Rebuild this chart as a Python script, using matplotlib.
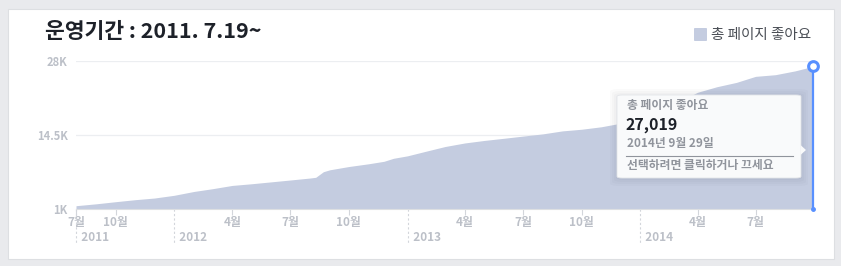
import matplotlib
matplotlib.use("Agg")
import matplotlib.pyplot as plt
import matplotlib.dates as mdates
from matplotlib.patches import FancyBboxPatch, Rectangle, Polygon
from matplotlib.lines import Line2D
import datetime as dt

plt.rcParams['font.family'] = ['Noto Sans CJK KR', 'DejaVu Sans']

# ---------------- data ----------------
title = "운영기간 : 2011. 7.19~"
series_name = "총 페이지 좋아요"
dates = ["2011-07-31", "2011-09-01", "2011-10-01", "2011-11-01", "2011-12-01",
         "2012-01-01", "2012-02-01", "2012-03-01", "2012-04-01", "2012-05-01",
         "2012-06-01", "2012-07-01", "2012-08-01", "2012-08-10", "2012-08-22",
         "2012-09-01", "2012-10-01", "2012-11-01", "2012-11-25", "2012-12-10",
         "2013-01-01", "2013-02-01", "2013-03-01", "2013-04-01", "2013-05-01",
         "2013-06-01", "2013-07-01", "2013-08-01", "2013-09-01", "2013-10-01",
         "2013-11-01", "2013-12-01", "2014-01-01", "2014-02-01", "2014-03-01",
         "2014-04-01", "2014-05-01", "2014-06-01", "2014-06-20", "2014-07-01",
         "2014-08-01", "2014-09-01", "2014-09-29"]
likes = [1600, 1950, 2330, 2700, 3000,
         3500, 4200, 4700, 5300, 5600,
         5950, 6290, 6650, 6780, 7800,
         8150, 8750, 9250, 9700, 10250,
         10700, 11600, 12400, 13050, 13500,
         13900, 14300, 14700, 15250, 15550,
         16000, 16650, 17700, 19000, 20500,
         22300, 23300, 24100, 24800, 25200,
         25500, 26200, 27019]
y_ticks = [1000, 14500, 28000]
y_tick_labels = ["1K", "14.5K", "28K"]
month_ticks = ["2011-07-31", "2011-10-01", "2012-04-01", "2012-07-01", "2012-10-01",
               "2013-04-01", "2013-07-01", "2013-10-01", "2014-04-01", "2014-07-01"]
month_labels = ["7월", "10월", "4월", "7월", "10월", "4월", "7월", "10월", "4월", "7월"]
year_starts = ["2011-07-31", "2012-01-01", "2013-01-01", "2014-01-01"]
year_labels = ["2011", "2012", "2013", "2014"]
tip_title = "총 페이지 좋아요"
tip_value = "27,019"
tip_date = "2014년 9월 29일"
tip_hint = "선택하려면 클릭하거나 끄세요"

def d(s):
    return mdates.date2num(dt.datetime.strptime(s, "%Y-%m-%d"))

xs = [d(s) for s in dates]

W, H = 841, 266
fig = plt.figure(figsize=(W / 100, H / 100), dpi=100)
fig.patch.set_facecolor("#e9eaed")

def fx(px):
    return px / W

def fy(py):
    return 1 - py / H

# card
card = Rectangle((fx(8), fy(259)), fx(834) - fx(8), fy(9) - fy(259),
                 transform=fig.transFigure, facecolor="white",
                 edgecolor="#dddfe2", linewidth=0.8, zorder=-5)
fig.patches.append(card)

ax = fig.add_axes([fx(76), fy(209), fx(813) - fx(76), fy(61) - fy(209)])
ax.set_zorder(1)
ax.set_facecolor("none")
ax.fill_between(xs, 1000, likes, color="#c4cce0", linewidth=0, zorder=2)
ax.set_xlim(xs[0], xs[-1])
ax.set_ylim(1000, 28000)
for s in ["top", "right", "left"]:
    ax.spines[s].set_visible(False)
ax.spines["bottom"].set_color("#dddfe2")
ax.spines["bottom"].set_linewidth(0.8)

ax.set_yticks(y_ticks)
ax.set_yticklabels(y_tick_labels)
ax.tick_params(axis="y", length=0, pad=6, labelsize=8, labelcolor="#bcc0c8")
for yv in y_ticks[1:]:
    ax.axhline(yv, color="#eceef1", linewidth=0.9, zorder=1)

ax.set_xticks([d(s) for s in month_ticks])
ax.set_xticklabels(month_labels)
ax.tick_params(axis="x", length=4, width=0.8, color="#d3d6db", pad=1,
               labelsize=8.5, labelcolor="#bcc0c8")
for lab in ax.get_xticklabels():
    lab.set_fontweight("bold")
for lab in ax.get_yticklabels():
    lab.set_fontweight("bold")

trans = ax.get_xaxis_transform()
for s, lab in zip(year_starts, year_labels):
    x = d(s)
    ax.add_line(Line2D([x, x], [0, -0.23], transform=trans, color="#d3d6db",
                       linewidth=0.8, linestyle=(0, (2, 2)), clip_on=False))
    ax.text(x, -0.19, "  " + lab, transform=trans, ha="left", va="center",
            fontsize=8.5, color="#bcc0c8", fontweight="bold")

# highlighted point
ax.plot([xs[-1], xs[-1]], [1000, likes[-1]], color="#5890ff", linewidth=1.6,
        zorder=5, clip_on=False)
ax.plot([xs[-1]], [likes[-1]], marker="o", markersize=7, markerfacecolor="white",
        markeredgecolor="#5890ff", markeredgewidth=2.2, zorder=6, clip_on=False)
ax.plot([xs[-1]], [1000], marker="o", markersize=2.5, color="#5890ff",
        zorder=6, clip_on=False)

# title and legend
fig.text(fx(45), fy(32), title, fontsize=15.5, fontweight="bold",
         color="#1d2129", ha="left", va="center")
leg = FancyBboxPatch((fx(694), fy(41)), fx(13), fy(28) - fy(41),
                     boxstyle="round,pad=0,rounding_size=0.002",
                     transform=fig.transFigure, facecolor="#c4cce0",
                     edgecolor="none")
fig.patches.append(leg)
fig.text(fx(711), fy(35), series_name, fontsize=10.5, color="#4b4f56",
         ha="left", va="center")

# tooltip (soft shadow + box)
for i in range(4):
    g = 1 + 2 * i
    sh = FancyBboxPatch((fx(617 - g), fy(178 + g + 1)), fx(801 + g) - fx(617 - g),
                        fy(95 - g + 1) - fy(178 + g + 1),
                        boxstyle="round,pad=0,rounding_size=0.01",
                        transform=fig.transFigure, facecolor="#1d2129",
                        edgecolor="none", alpha=0.018, zorder=9)
    fig.patches.append(sh)
tip = FancyBboxPatch((fx(617), fy(178)), fx(801) - fx(617), fy(95) - fy(178),
                     boxstyle="round,pad=0,rounding_size=0.006",
                     transform=fig.transFigure, facecolor="#f9fafb",
                     edgecolor="#e3e5e9", linewidth=0.6, zorder=10)
fig.patches.append(tip)
arrow = Polygon([(fx(800.5), fy(145)), (fx(806), fy(150)), (fx(800.5), fy(155))],
                closed=True, transform=fig.transFigure, facecolor="#f9fafb",
                edgecolor="none", zorder=11)
fig.patches.append(arrow)
fig.text(fx(627), fy(105), tip_title, fontsize=8.5, color="#90949c",
         ha="left", va="center", zorder=12, fontweight="bold")
fig.text(fx(626), fy(125), tip_value, fontsize=11.5, color="#1d2129",
         fontweight="bold", ha="left", va="center", zorder=12)
fig.text(fx(627), fy(143), tip_date, fontsize=8.5, color="#90949c",
         fontweight="bold", ha="left", va="center", zorder=12)
fig.add_artist(Line2D([fx(626), fx(793)], [fy(156), fy(156)],
                      transform=fig.transFigure, color="#90949c",
                      linewidth=0.8, zorder=12))
fig.text(fx(627), fy(166), tip_hint, fontsize=8.5, color="#90949c",
         fontweight="bold", ha="left", va="center", zorder=12)

fig.savefig("out.png", dpi=100, facecolor=fig.get_facecolor())
